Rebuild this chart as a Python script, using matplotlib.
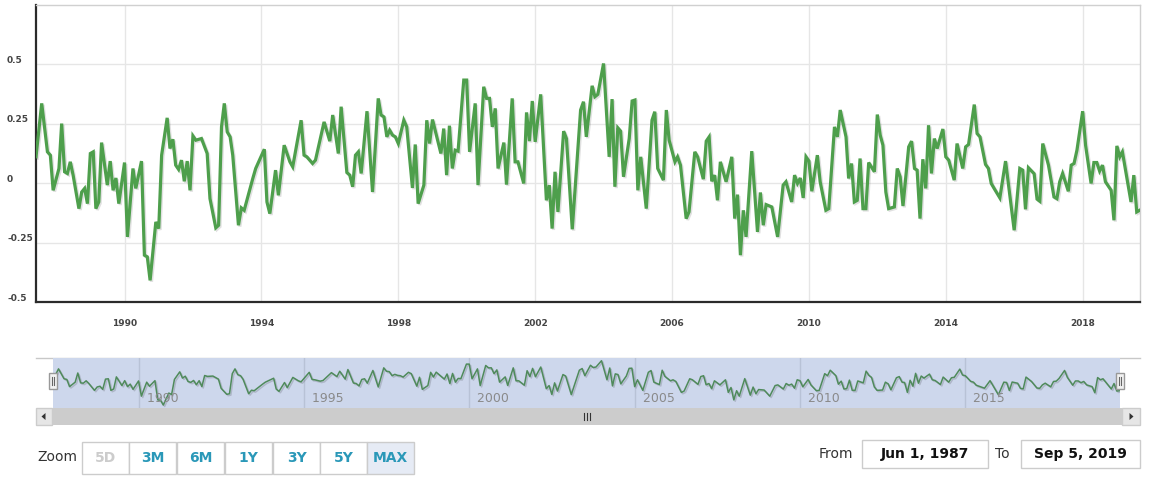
import matplotlib
matplotlib.use("Agg")
import matplotlib.pyplot as plt
import matplotlib.patheffects as pe
import matplotlib.transforms as mtrans
from matplotlib.patches import Rectangle, Polygon
import pandas as pd
import numpy as np

# ---------------- data ----------------
start_month = "1987-06-01"
end_date = "2019-09-05"
# months elapsed since Jun 1987 for each observed vertex
month_idx = [
    0, 2, 4, 5, 6, 8, 9, 10, 11, 12, 13, 15, 16, 17, 18, 19, 20, 21, 22, 23, 25, 26, 27, 28, 29, 31, 32, 34,
    35, 37, 38, 39, 40, 42, 43, 44, 46, 47, 48, 49, 50, 51, 52, 53, 54, 55, 56, 58, 60, 61, 63, 64, 65, 66, 67, 68, 69,
    71, 72, 73, 76, 77, 80, 81, 82, 84, 85, 87, 89, 90, 93, 94, 95, 97, 98, 101, 103, 104,
    106, 107, 109, 110, 111, 112, 113, 114, 116, 118, 120, 121, 122, 123, 124, 125, 126, 127, 129, 130, 132, 133, 134, 136, 137, 138, 139,
    142, 143, 144, 145, 146, 147, 148, 150, 151, 152, 154, 155, 157, 158, 159, 160, 161, 162, 164, 165, 167, 168, 169, 171, 172, 173, 174,
    175, 177, 179, 180, 181, 182, 183, 185, 186, 188, 191, 192, 193, 195, 196, 197, 199, 201, 202, 203, 204, 205, 206, 208, 209,
    210, 211, 212, 214, 216, 217, 218, 220, 221, 222, 224, 225, 226, 228, 229, 231, 232, 234, 235, 236, 237, 238, 239, 240, 242, 244,
    245, 246, 247, 248, 249, 251, 253, 254, 255, 256, 258, 260, 262, 263, 265, 266, 267, 268, 269, 270, 271, 272, 274, 275, 277, 278, 280,
    281, 282, 284, 285, 286, 287, 288, 289, 290, 291, 292, 294, 295, 296, 297, 298, 299, 301, 302, 303, 304, 306, 307, 308, 309, 310, 311, 312, 313, 314,
    315, 316, 318, 319, 320, 322, 323, 325, 326, 327, 329, 330, 331, 333, 334, 335, 336, 338, 340, 343, 345, 346, 347, 348, 350,
    351, 352, 353, 355, 357, 358, 359, 360, 362, 363, 364, 365, 367, 368, 370, 371, 372, 373, 374, 375, 377, 378, 379, 380, 381, 384, 385, 386, 387,
]
values = [
    0.111, 0.336, 0.132, 0.118, -0.030, 0.062, 0.251, 0.048, 0.041, 0.090, 0.034, -0.107, -0.037, -0.022, -0.086, 0.125, 0.132, -0.107, -0.079, 0.171, -0.008, 0.093, -0.030, 0.022, -0.086, 0.087, -0.226, 0.062,
    -0.022, 0.093, -0.303, -0.310, -0.409, -0.163, -0.191, 0.118, 0.275, 0.146, 0.185, 0.076, 0.058, 0.097, 0.008, 0.093, -0.030, 0.199, 0.181, 0.188, 0.125, -0.065, -0.188, -0.177, 0.237, 0.336, 0.216, 0.195, 0.118,
    -0.177, -0.104, -0.114, 0.020, 0.062, 0.143, -0.079, -0.128, 0.055, -0.051, 0.160, 0.090, 0.069, 0.265, 0.118, 0.111, 0.083, 0.097, 0.258, 0.177, 0.287,
    0.125, 0.322, 0.045, 0.034, -0.015, 0.118, 0.132, 0.041, 0.303, -0.037, 0.357, 0.287, 0.279, 0.195, 0.223, 0.202, 0.195, 0.167, 0.265, 0.237, -0.020, 0.163, -0.086, -0.008, 0.265, 0.167, 0.268,
    0.125, 0.230, 0.034, 0.242, 0.062, 0.139, 0.135, 0.434, 0.434, 0.132, 0.336, -0.008, 0.406, 0.357, 0.357, 0.237, 0.315, 0.062, 0.171, -0.006, 0.357, 0.090, 0.090, -0.001, 0.298, 0.177, 0.346,
    0.174, 0.374, -0.072, -0.008, -0.191, 0.048, -0.121, 0.219, 0.188, -0.194, 0.308, 0.343, 0.195, 0.410, 0.364, 0.374, 0.504, 0.111, 0.354, -0.015, 0.233, 0.219, 0.027, 0.188, 0.346,
    0.350, -0.030, 0.111, -0.107, 0.265, 0.301, 0.062, 0.013, 0.308, 0.181, 0.090, 0.111, 0.076, -0.149, -0.121, 0.132, 0.111, 0.017, 0.177, 0.195, 0.008, 0.034, -0.072, 0.090, 0.006, 0.111,
    -0.149, -0.048, -0.303, -0.114, -0.226, 0.135, -0.205, -0.039, -0.177, -0.090, -0.100, -0.226, -0.008, 0.006, -0.079, 0.034, -0.001, 0.022, -0.062, 0.111, 0.093, -0.034, 0.118, 0.006, -0.114, -0.107, 0.237,
    0.195, 0.308, 0.195, 0.020, 0.083, -0.079, -0.072, 0.104, -0.107, -0.107, 0.087, 0.048, 0.289, 0.202, 0.160, -0.037, -0.107, -0.100, 0.062, 0.027, -0.096, 0.153, 0.177, 0.062, 0.055, -0.149, 0.101, -0.022, 0.244, 0.041,
    0.188, 0.146, 0.228, 0.111, 0.097, 0.013, 0.167, 0.062, 0.153, 0.163, 0.331, 0.209, 0.195, 0.079, 0.062, -0.001, -0.022, -0.062, 0.093, -0.198, 0.062, 0.055, -0.110, 0.065, 0.040,
    -0.067, -0.076, 0.167, 0.076, -0.058, -0.065, 0.006, 0.041, -0.034, 0.076, 0.083, 0.139, 0.303, 0.160, -0.001, 0.087, 0.087, 0.051, 0.076, 0.006, -0.030, -0.156, 0.157, 0.111, 0.132, -0.079, 0.034, -0.121, -0.114,
]
y_ticks = [-0.5, -0.25, 0, 0.25, 0.5]
y_tick_labels = ["-0.5", "-0.25", "0", "0.25", "0.5"]
x_tick_years = [1990, 1994, 1998, 2002, 2006, 2010, 2014, 2018]
nav_tick_years = [1990, 1995, 2000, 2005, 2010, 2015]
zoom_buttons = ["5D", "3M", "6M", "1Y", "3Y", "5Y", "MAX"]
from_label = "Jun 1, 1987"
to_label = "Sep 5, 2019"

t0 = pd.Timestamp(start_month)
t1 = pd.Timestamp(end_date)
dates = [t0 + pd.DateOffset(months=m) for m in month_idx]

# ---------------- figure ----------------
W, H = 1149, 483
fig = plt.figure(figsize=(W / 100, H / 100), dpi=100)
fig.patch.set_facecolor("white")

def frac(x0, y0, x1, y1):
    return [x0 / W, 1 - y1 / H, (x1 - x0) / W, (y1 - y0) / H]

LINE = "#4e9f4c"
shadow = [pe.SimpleLineShadow(offset=(1, -1), alpha=0.12, shadow_color="black"), pe.Normal()]

# main chart
ax = fig.add_axes(frac(36, 5, 1140, 302))
ax.plot(dates, values, color=LINE, lw=2.3, solid_joinstyle="miter", path_effects=shadow, zorder=3)
ax.set_xlim(t0, t1)
ax.set_ylim(-0.5, 0.75)
ax.set_yticks(y_ticks)
ax.set_yticklabels([])
ax.tick_params(axis="y", length=0)
ax.set_xticks([pd.Timestamp(f"{y}-01-01") for y in x_tick_years])
ax.set_xticklabels([str(y) for y in x_tick_years], fontsize=6.5, fontweight="bold", color="#444")
ax.tick_params(axis="x", length=0, pad=12)
ax.grid(True, color="#e6e6e6", lw=1)
ax.set_axisbelow(True)
for s in ["top", "right"]:
    ax.spines[s].set_color("#d0d0d0")
    ax.spines[s].set_linewidth(1)
for s in ["left", "bottom"]:
    ax.spines[s].set_color("#2b2b2b")
    ax.spines[s].set_linewidth(1.6)
off = mtrans.ScaledTranslation(0, 4 / 100, fig.dpi_scale_trans)
ytr = mtrans.blended_transform_factory(fig.transFigure, ax.transData) + off
for v, lab in zip(y_ticks, y_tick_labels):
    ax.text(7 / W, v, lab, transform=ytr, ha="left", va="center", fontsize=6.5,
            fontweight="bold", color="#444", clip_on=False)

# UI overlay (pixel coordinates)
ui = fig.add_axes([0, 0, 1, 1], zorder=-1)
ui.set_xlim(0, W)
ui.set_ylim(H, 0)
ui.axis("off")

# navigator background and outline
ui.add_patch(Rectangle((36, 358), 1104, 50, facecolor="white", edgecolor="none"))
ui.plot([36, 1140], [358, 358], color="#c8c8c8", lw=1)

nav = fig.add_axes(frac(53, 358, 1120, 408), zorder=1)
nav.set_facecolor("#cdd7ec")
nav.plot(dates, values, color="#4f8a5b", lw=1.1, path_effects=[
    pe.SimpleLineShadow(offset=(1, -1), alpha=0.15), pe.Normal()])
nav.set_xlim(t0, t1)
nav.set_ylim(-0.47, 0.56)
nav.set_xticks([pd.Timestamp(f"{y}-01-01") for y in nav_tick_years])
nav.set_xticklabels([])
nav.set_yticks([])
nav.tick_params(length=0)
nav.grid(True, axis="x", color="#b8c2d6", lw=1)
nav.set_axisbelow(True)
for s in nav.spines.values():
    s.set_visible(False)
ntr = mtrans.blended_transform_factory(nav.transData, nav.transAxes)
for y in nav_tick_years:
    nav.text(pd.Timestamp(f"{y}-01-01"), 0.2, f"  {y}", transform=ntr, ha="left", va="center",
             fontsize=9, color="#8a8a8a")

# handles
over = fig.add_axes([0, 0, 1, 1], zorder=5)
over.set_xlim(0, W)
over.set_ylim(H, 0)
over.axis("off")
for hx in (53, 1120):
    over.add_patch(Rectangle((hx - 4, 373), 8, 16, facecolor="#f2f2f2", edgecolor="#999", lw=1))
    over.plot([hx - 1.3, hx - 1.3], [377, 385], color="#666", lw=0.8)
    over.plot([hx + 1.3, hx + 1.3], [377, 385], color="#666", lw=0.8)

# scrollbar
ui.add_patch(Rectangle((36, 408), 1104, 17, facecolor="#f2f2f2", edgecolor="none"))
ui.add_patch(Rectangle((52, 408), 1070, 17, facecolor="#cccccc", edgecolor="none"))
ui.add_patch(Rectangle((36, 408), 16, 17, facecolor="#e6e6e6", edgecolor="#cccccc", lw=1))
ui.add_patch(Rectangle((1122, 408), 18, 17, facecolor="#e6e6e6", edgecolor="#cccccc", lw=1))
ui.add_patch(Polygon([[45.5, 413], [45.5, 420], [41.5, 416.5]], closed=True, facecolor="#333", edgecolor="none"))
ui.add_patch(Polygon([[1129.5, 413], [1129.5, 420], [1133.5, 416.5]], closed=True, facecolor="#333", edgecolor="none"))
for gx in (584, 587, 590):
    ui.plot([gx, gx], [413, 420], color="#333", lw=0.8)

# range selector
ui.text(37, 457, "Zoom", fontsize=10, color="#333", ha="left", va="center")
bx = [82, 129, 177, 225, 273, 320, 367]
bw = 47
for i, (x0, lab) in enumerate(zip(bx, zoom_buttons)):
    sel = lab == "MAX"
    ui.add_patch(Rectangle((x0, 442), bw, 32, facecolor="#e6ebf5" if sel else "white",
                           edgecolor="#cccccc", lw=1))
    col = "#cccccc" if lab == "5D" else "#2a98b8"
    ui.text(x0 + bw / 2, 458.5, lab, fontsize=10, fontweight="bold", color=col, ha="center", va="center")

# date inputs
ui.text(819, 454, "From", fontsize=10, color="#333", ha="left", va="center")
ui.add_patch(Rectangle((862, 440), 126, 28, facecolor="white", edgecolor="#cccccc", lw=1))
ui.text(925, 454, from_label, fontsize=10, fontweight="bold", color="#111", ha="center", va="center")
ui.text(995, 454, "To", fontsize=10, color="#333", ha="left", va="center")
ui.add_patch(Rectangle((1021, 440), 119, 28, facecolor="white", edgecolor="#cccccc", lw=1))
ui.text(1080, 454, to_label, fontsize=10, fontweight="bold", color="#111", ha="center", va="center")

fig.savefig("out.png", dpi=100, facecolor="white")
